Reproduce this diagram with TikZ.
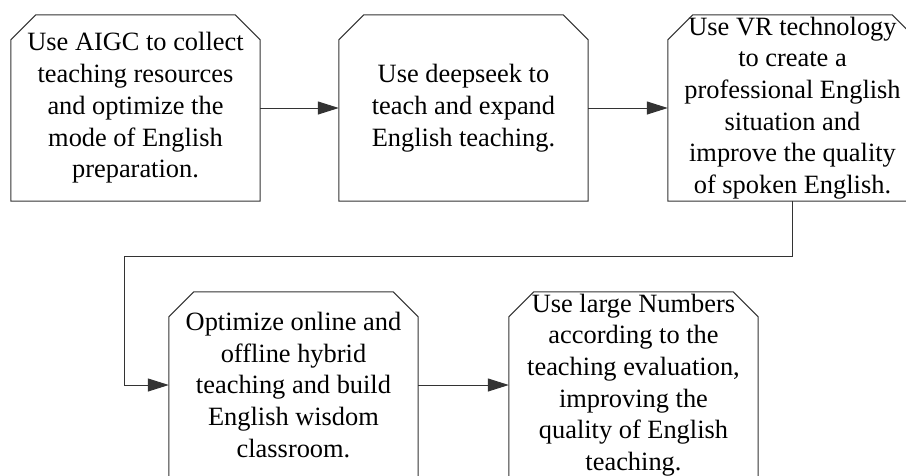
\documentclass[tikz,border=0pt]{standalone}
\usepackage{fontspec}
\setmainfont{Liberation Serif}
\usetikzlibrary{arrows.meta,calc}
\begin{document}
\begin{tikzpicture}[x=1pt,y=-1pt,
  stepbox/.style={minimum width=249pt,minimum height=186pt,inner sep=0pt,align=center,
    font=\fontsize{26.4}{31.7}\selectfont,text=black},
  edge/.style={line width=1pt,draw=black!80},
  arr/.style={edge,-{Triangle[length=21pt,width=13pt]}}]
\useasboundingbox (0,0) rectangle (906,475);
\clip (0,0) rectangle (906,475);
\node[stepbox] (b1) at (135.5,108) {Use AIGC to collect\\teaching resources\\and optimize the\\mode of English\\preparation.};
\node[stepbox] (b2) at (463.5,108) {Use deepseek to\\teach and expand\\English teaching.};
\node[stepbox] (b3) at (792.5,108) {Use VR technology\\to create a\\professional English\\situation and\\improve the quality\\of spoken English.};
\node[stepbox] (b4) at (293.5,385) {Optimize online and\\offline hybrid\\teaching and build\\English wisdom\\classroom.};
\node[stepbox] (b5) at (633.5,385) {Use large Numbers\\according to the\\teaching evaluation,\\improving the\\quality of English\\teaching.};
\foreach \n in {b1,b2,b3,b4,b5}
  \draw[edge] (\n.south west) -- ($(\n.north west)+(0,25)$) -- ($(\n.north west)+(25,0)$)
    -- ($(\n.north east)+(-25,0)$) -- ($(\n.north east)+(0,25)$) -- (\n.south east) -- cycle;
\coordinate (c1) at (124,256);
\draw[arr] (b1.east) -- (b2.west);
\draw[arr] (b2.east) -- (b3.west);
\draw[arr] (b3.south) |- (c1) |- (b4.west);
\draw[arr] (b4.east) -- (b5.west);
\end{tikzpicture}
\end{document}
